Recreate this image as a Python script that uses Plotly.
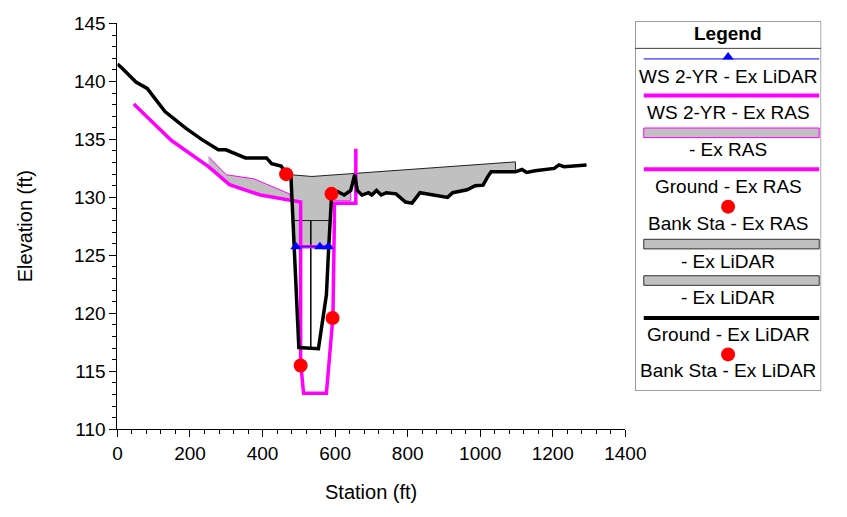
import plotly.graph_objects as go

W, H = 847, 517

# ---------------- data ----------------
ground_lidar_sta = [0, 11, 51, 82, 131, 189, 232, 278, 299, 353, 411, 425, 451, 465, 478,
                    500, 554, 576, 582, 590, 607, 625, 643, 654, 661, 674, 692, 701, 714,
                    727, 741, 768, 794, 812, 834, 870, 910, 924, 964, 986, 1008, 1021,
                    1030, 1097, 1115, 1128, 1151, 1204, 1217, 1231, 1257, 1293]
ground_lidar_el = [141.5, 141.2, 139.95, 139.4, 137.4, 135.95, 135.0, 134.1, 134.1, 133.4,
                   133.4, 132.9, 132.7, 132.1, 131.95, 117.05, 116.95, 121.6, 125.5, 130.0,
                   130.5, 130.2, 130.6, 131.95, 130.6, 130.2, 130.4, 130.2, 130.6, 130.2,
                   130.4, 130.3, 129.6, 129.5, 130.4, 130.2, 130.0, 130.4, 130.65, 131.0,
                   131.05, 131.8, 132.2, 132.2, 132.4, 132.15, 132.3, 132.5, 132.8, 132.65,
                   132.7, 132.8]

ground_ras_sta = [45, 149, 251, 309, 394, 474, 505, 505, 513, 576, 594, 598, 598, 657, 657]
ground_ras_el = [138.05, 134.9, 132.65, 131.1, 130.2, 129.75, 129.6, 115.8, 113.1, 113.1,
                 119.7, 128.0, 129.5, 129.5, 134.2]

bank_lidar_sta = [465, 590]
bank_lidar_el = [132.0, 130.3]
bank_ras_sta = [505, 593]
bank_ras_el = [115.5, 119.6]

ws_lidar_sta = [492, 558, 581]
ws_lidar_el = [125.75, 125.75, 125.75]
ws_ras_sta = [494, 592]
ws_ras_el = [125.75, 125.75]

# "- Ex RAS" filled areas (two polygons separated by None)
ras_fill_sta = [251, 300, 376, 474, 478, 474, 394, 309, 251, None, 596, 643, 643, 596]
ras_fill_el = [133.5, 131.95, 131.6, 130.3, 129.8, 129.75, 130.2, 131.1, 132.65, None,
               129.7, 129.7, 130.6, 130.6]

# "- Ex LiDAR" deck (top line, right end, low chord ends)
deck_top_sta = [478, 536, 1097]
deck_top_el = [131.95, 131.8, 133.06]
deck_right_ground_el = 132.2
deck_left_bank_sta = 590
low_chord_sta = [586, 484]
low_chord_el = [128.0, 128.0]

# "- Ex LiDAR" opening below the low chord down to the water surface
opening_sta = [484, 586, 582, 487]
opening_el = [128.0, 128.0, 125.75, 125.75]
pier_sta = [533, 533]
pier_el = [128.0, 116.95]

series_names = ["WS 2-YR - Ex LiDAR", "WS 2-YR - Ex RAS", "- Ex RAS", "Ground - Ex RAS",
                "Bank Sta - Ex RAS", "- Ex LiDAR", "- Ex LiDAR", "Ground - Ex LiDAR",
                "Bank Sta - Ex LiDAR"]

x_ticks = [0, 200, 400, 600, 800, 1000, 1200, 1400]
y_ticks = [110, 115, 120, 125, 130, 135, 140, 145]

# ---------------- styles ----------------
MAG = "#FF00FF"
BLUE = "#0000FF"
RED = "#FF0000"
GRAY = "#C0C0C0"
FONT = "Liberation Sans, Arial, sans-serif"
FS = 19
FS_TITLE = 20

# build deck polygon from the ground data
deck_sta = list(deck_top_sta) + [deck_top_sta[-1]]
deck_el = list(deck_top_el) + [deck_right_ground_el]
pairs = [(s, e) for s, e in zip(ground_lidar_sta, ground_lidar_el)
         if deck_left_bank_sta <= s < deck_top_sta[-1]]
for s, e in reversed(pairs):
    deck_sta.append(s)
    deck_el.append(e)
deck_sta += low_chord_sta
deck_el += low_chord_el

fig = go.Figure()

fig.add_trace(go.Scatter(x=ras_fill_sta, y=ras_fill_el, fill="toself", fillcolor=GRAY,
                         mode="lines", line=dict(color=MAG, width=1), hoverinfo="skip"))
fig.add_trace(go.Scatter(x=deck_sta, y=deck_el, fill="toself", fillcolor=GRAY,
                         mode="lines", line=dict(color="#202020", width=1), hoverinfo="skip"))
fig.add_trace(go.Scatter(x=opening_sta, y=opening_el, fill="toself", fillcolor=GRAY,
                         mode="lines", line=dict(color="#202020", width=1), hoverinfo="skip"))
fig.add_trace(go.Scatter(x=pier_sta, y=pier_el, mode="lines",
                         line=dict(color="#000000", width=1.5), hoverinfo="skip"))
fig.add_trace(go.Scatter(x=ground_ras_sta, y=ground_ras_el, mode="lines",
                         line=dict(color=MAG, width=3.5)))
fig.add_trace(go.Scatter(x=ws_ras_sta, y=ws_ras_el, mode="lines",
                         line=dict(color=MAG, width=3.5)))
fig.add_trace(go.Scatter(x=ground_lidar_sta, y=ground_lidar_el, mode="lines",
                         line=dict(color="#000000", width=3.5)))
fig.add_trace(go.Scatter(x=ws_lidar_sta, y=ws_lidar_el, mode="lines+markers",
                         line=dict(color=BLUE, width=1),
                         marker=dict(symbol="triangle-up", size=10, color=BLUE)))
fig.add_trace(go.Scatter(x=bank_ras_sta, y=bank_ras_el, mode="markers",
                         marker=dict(symbol="circle", size=14, color=RED)))
fig.add_trace(go.Scatter(x=bank_lidar_sta, y=bank_lidar_el, mode="markers",
                         marker=dict(symbol="circle", size=14, color=RED)))

# plot area in pixels
PL, PR, PT, PB = 116, 640, 14, 437
# legend box in pixels
LL, LR, LT, LB = 650, 842, 12, 397

axis_common = dict(showgrid=False, zeroline=False, showline=True, linecolor="black",
                   linewidth=1, ticks="outside", ticklen=7, tickcolor="black",
                   tickfont=dict(family=FONT, size=FS, color="black"))

fig.update_layout(
    width=W, height=H, margin=dict(l=0, r=0, t=0, b=0),
    paper_bgcolor="white", plot_bgcolor="white", showlegend=False,
    xaxis=dict(domain=[PL / W, PR / W], range=[0, 1400], tickvals=x_ticks,
               minor=dict(dtick=40, ticklen=4, ticks="outside", tickcolor="black"),
               anchor="y", **axis_common),
    yaxis=dict(domain=[1 - PB / H, 1 - PT / H], range=[110, 145], tickvals=y_ticks,
               minor=dict(dtick=1, ticklen=4, ticks="outside", tickcolor="black"),
               anchor="x", **axis_common),
    xaxis2=dict(domain=[LL / W, LR / W], range=[LL, LR], visible=False, anchor="y2",
                fixedrange=True),
    yaxis2=dict(domain=[1 - LB / H, 1 - LT / H], range=[LB, LT], visible=False,
                anchor="x2", fixedrange=True),
)

# axis titles
fig.add_annotation(x=(PL + PR) / 2 / W, y=1 - 502 / H, xref="paper", yref="paper",
                   xanchor="center", yanchor="middle",
                   text="Station (ft)", showarrow=False,
                   font=dict(family=FONT, size=FS_TITLE, color="black"))
fig.add_annotation(x=20 / W, y=1 - 225 / H, xref="paper", yref="paper",
                   xanchor="center", yanchor="middle",
                   text="Elevation (ft)", showarrow=False, textangle=-90,
                   font=dict(family=FONT, size=FS_TITLE, color="black"))

# ---------------- legend (drawn on an overlay axis in pixel units) ----------------
fig.add_shape(type="rect", xref="x2", yref="y2", x0=LL, x1=LR, y0=LT, y1=LB,
              line=dict(color="#404040", width=1), fillcolor="rgba(0,0,0,0)")
fig.add_shape(type="line", xref="x2", yref="y2", x0=LL, x1=LR, y0=40, y1=40,
              line=dict(color="#404040", width=1))
fig.add_annotation(x=(LL + LR) / 2, y=25, xref="x2", yref="y2", text="<b>Legend</b>",
                   xanchor="center", yanchor="middle",
                   showarrow=False, font=dict(family=FONT, size=FS, color="black"))

cx = (LL + LR) / 2
sx0, sx1 = 659, 840
sym_y = [51, 89, 128, 166, 205, 244, 282, 321, 359]
txt_y = [69, 107, 145, 184, 223, 262, 300, 338, 376]
sym_kind = ["ws", "mline", "rasfill", "mline", "dot", "gfill", "gfill", "kline", "dot"]

for name, ys, yt, kind in zip(series_names, sym_y, txt_y, sym_kind):
    if kind == "ws":
        fig.add_trace(go.Scatter(x=[sx0, sx1], y=[ys, ys], mode="lines", xaxis="x2",
                                 yaxis="y2", line=dict(color=BLUE, width=1),
                                 hoverinfo="skip"))
        fig.add_trace(go.Scatter(x=[cx], y=[ys - 2], mode="markers", xaxis="x2",
                                 yaxis="y2", hoverinfo="skip",
                                 marker=dict(symbol="triangle-up", size=10, color=BLUE)))
    elif kind == "mline":
        fig.add_shape(type="line", xref="x2", yref="y2", x0=sx0, x1=sx1, y0=ys, y1=ys,
                      line=dict(color=MAG, width=4))
    elif kind == "kline":
        fig.add_shape(type="line", xref="x2", yref="y2", x0=sx0, x1=sx1, y0=ys, y1=ys,
                      line=dict(color="black", width=4))
    elif kind == "rasfill":
        fig.add_shape(type="rect", xref="x2", yref="y2", x0=sx0, x1=sx1, y0=ys - 5,
                      y1=ys + 5, fillcolor=GRAY, line=dict(color=MAG, width=1))
    elif kind == "gfill":
        fig.add_shape(type="rect", xref="x2", yref="y2", x0=sx0, x1=sx1, y0=ys - 5,
                      y1=ys + 5, fillcolor=GRAY, line=dict(color="#303030", width=1))
    elif kind == "dot":
        fig.add_trace(go.Scatter(x=[cx], y=[ys], mode="markers", xaxis="x2", yaxis="y2",
                                 hoverinfo="skip",
                                 marker=dict(symbol="circle", size=14, color=RED)))
    fig.add_annotation(x=cx, y=yt, xref="x2", yref="y2", text=name, showarrow=False,
                       xanchor="center", yanchor="middle",
                       font=dict(family=FONT, size=FS, color="black"))

fig.write_html("out.html")
